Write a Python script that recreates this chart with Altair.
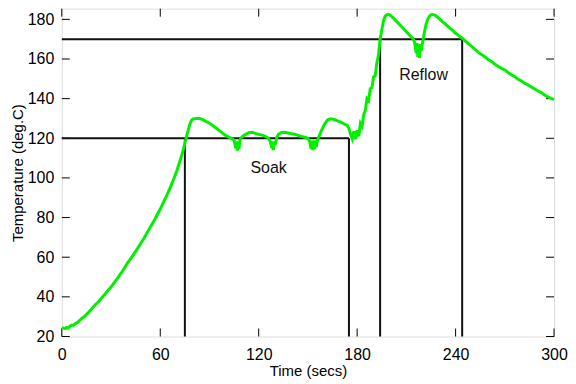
import altair as alt
import pandas as pd

# Temperature profile (time in secs, temperature in deg.C)
time_s = [0,1,2,3,4,5,6,7,8,10,12,14,16,18,20,22,24,26,28,30,32,34,36,38,40,42,44,46,48,50,
          52,54,56,58,60,62,64,66,68,70,72,74,75,76,77,78,79,80,82,84,86,88,90,92,94,96,98,100,
          102,104,105,106,106.5,107,107.5,108,108.5,109,110,112,114,116,118,120,122,124,126,127,128,
          128.5,129,129.5,130,131,132,134,136,138,140,142,144,146,148,150,151,152,152.5,153,153.5,
          154,154.5,155,156,158,160,162,164,166,168,170,172,174,175,176,177,178,179,180,181,182,183,
          184,185,186,187,188,189,190,191,192,193,194,195,196,197,198,199,200,202,204,206,208,210,
          212,214,215,216,216.5,217,217.5,218,218.5,219,220,221,222,223,224,225,226,227,228,230,232,
          234,236,238,240,242,244,246,248,250,252,254,256,258,260,262,264,266,268,270,272,274,276,
          278,280,282,284,286,288,290,292,294,296,298,300]
temp_c = [24.5,24.2,24.0,24.6,24.3,25.2,25.8,25.6,26.3,27.4,29.0,30.2,31.9,33.8,35.6,37.3,39.2,41.0,
          43.1,45.0,47.2,49.5,51.8,54.3,57.1,59.3,61.7,64.2,66.8,69.4,72.4,75.2,78.1,81.2,84.3,87.8,
          91.2,95.0,99.0,103.4,108.5,114.0,117.5,120.8,124.0,127.0,129.0,129.8,130.0,130.0,129.4,
          128.5,127.6,126.5,125.2,123.9,122.6,121.3,120.5,119.8,119.0,115.0,118.5,113.8,118.0,114.5,
          119.0,120.0,120.8,122.0,122.8,123.0,122.5,122.0,121.6,121.0,120.0,118.5,115.0,118.5,114.0,
          118.0,116.5,120.5,122.0,122.9,123.0,122.7,122.3,122.0,121.5,121.0,120.5,120.0,118.5,114.8,
          118.8,114.0,119.0,114.5,119.0,115.5,119.5,123.5,127.0,129.3,129.8,129.5,128.8,128.2,127.3,
          126.5,125.0,122.0,119.8,123.5,119.5,124.0,121.0,127.5,126.0,132.0,134.0,140.0,139.0,145.0,
          145.5,151.0,151.5,158.0,162.0,170.0,174.5,179.0,181.5,182.3,182.5,182.2,180.8,179.0,177.3,
          175.5,173.8,172.0,170.3,168.5,163.0,168.0,161.0,167.0,160.5,167.5,164.0,169.0,173.5,177.5,
          180.0,181.5,182.3,182.5,182.3,181.8,180.4,178.9,177.5,176.0,174.6,173.0,171.8,170.5,169.0,
          167.6,166.2,164.8,163.2,162.2,161.0,159.6,158.7,157.3,156.2,155.3,154.5,153.2,152.0,151.2,
          149.8,149.0,147.8,147.0,146.0,145.0,144.0,143.2,142.0,141.0,140.2,139.5]

# Soak / Reflow zone outlines
seg_x1 = [0, 0, 75, 175, 194, 244]
seg_x2 = [175, 244, 75, 175, 194, 244]
seg_y1 = [120, 170, 20, 20, 20, 20]
seg_y2 = [120, 170, 120, 120, 170, 170]

label_text = ["Soak", "Reflow"]
label_x = [126, 220.5]
label_y = [105, 151.7]

x_ticks = [0, 60, 120, 180, 240, 300]
y_ticks = [20, 40, 60, 80, 100, 120, 140, 160, 180]

W, H = 494, 329
FONT = "Liberation Sans"

df = pd.DataFrame({"t": time_s, "T": temp_c})
seg = pd.DataFrame({"x1": seg_x1, "x2": seg_x2, "y1": seg_y1, "y2": seg_y2})
lab = pd.DataFrame({"text": label_text, "x": label_x, "y": label_y})
xt = pd.DataFrame({"v": x_ticks})
yt = pd.DataFrame({"v": y_ticks})

xscale = alt.Scale(domain=[0, 300], nice=False)
yscale = alt.Scale(domain=[20, 185.4], nice=False)

xaxis = alt.Axis(values=x_ticks, ticks=False, grid=False, domain=False, labelFont=FONT,
                 labelFontSize=16, labelColor="#000", labelPadding=10, title="Time (secs)",
                 titleFont=FONT, titleFontSize=15, titleFontWeight="normal", titleColor="#000",
                 titlePadding=1, labelFlush=False)
yaxis = alt.Axis(values=y_ticks, ticks=False, grid=False, domain=False, labelFont=FONT,
                 labelFontSize=16, labelColor="#000", labelPadding=8,
                 title="Temperature (deg.C)", titleFont=FONT, titleFontSize=15,
                 titleFontWeight="normal", titleColor="#000", titlePadding=2)

line = alt.Chart(df).mark_line(color="#00f000", strokeWidth=3, interpolate="linear").encode(
    x=alt.X("t:Q", scale=xscale, axis=xaxis),
    y=alt.Y("T:Q", scale=yscale, axis=yaxis),
    order="t:Q",
)

rects = alt.Chart(seg).mark_rule(color="#111", strokeWidth=2).encode(
    x=alt.X("x1:Q", scale=xscale), x2="x2:Q",
    y=alt.Y("y1:Q", scale=yscale), y2="y2:Q",
)

texts = alt.Chart(lab).mark_text(font=FONT, fontSize=16, color="#111").encode(
    x=alt.X("x:Q", scale=xscale), y=alt.Y("y:Q", scale=yscale), text="text:N"
)

tick_len = 8
xt_bot = alt.Chart(xt).mark_rule(color="#000", strokeWidth=1).encode(
    x=alt.X("v:Q", scale=xscale), y=alt.value(H), y2=alt.value(H - tick_len))
xt_top = alt.Chart(xt).mark_rule(color="#000", strokeWidth=1).encode(
    x=alt.X("v:Q", scale=xscale), y=alt.value(0), y2=alt.value(tick_len))
yt_left = alt.Chart(yt).mark_rule(color="#000", strokeWidth=1).encode(
    y=alt.Y("v:Q", scale=yscale), x=alt.value(0), x2=alt.value(tick_len))
yt_right = alt.Chart(yt).mark_rule(color="#000", strokeWidth=1).encode(
    y=alt.Y("v:Q", scale=yscale), x=alt.value(W), x2=alt.value(W - tick_len))

chart = alt.layer(xt_bot, xt_top, yt_left, yt_right, rects, texts, line).properties(
    width=W, height=H,
    autosize=alt.AutoSizeParams(type="none"),
    padding={"left": 54, "top": 0, "right": 14, "bottom": 46},
).configure_view(stroke="#000", strokeWidth=1).configure(background="white")

chart.save("out.html", embed_options={"renderer": "svg", "actions": False})
